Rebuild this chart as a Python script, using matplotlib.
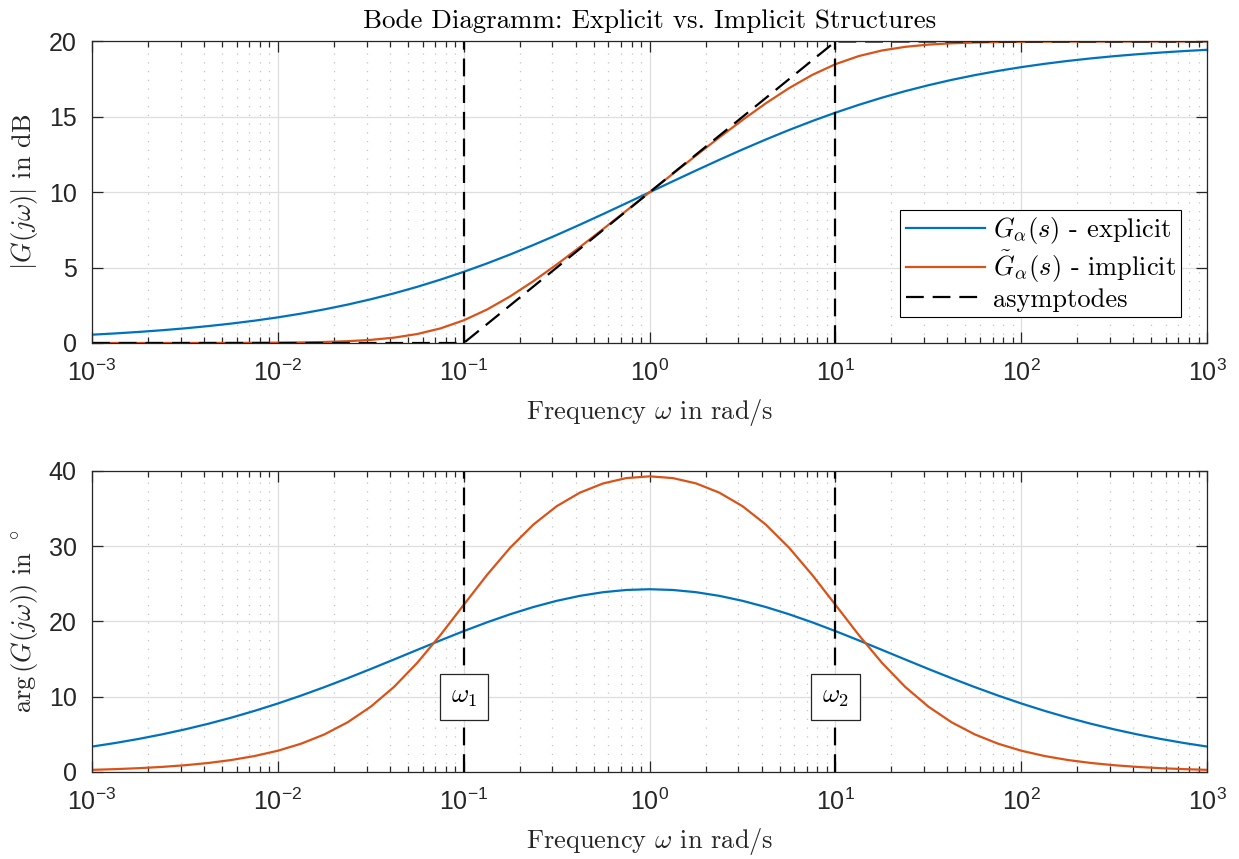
import numpy as np
import matplotlib
matplotlib.use('Agg')
import matplotlib.pyplot as plt

plt.rcParams['font.family'] = ['Liberation Sans', 'DejaVu Sans']
plt.rcParams['mathtext.fontset'] = 'cm'

# frequency grid, eighth decades from 1e-3 to 1e3
freq = np.logspace(-3, 3, 49)
decades = [1e-3, 1e-2, 1e-1, 1e0, 1e1, 1e2, 1e3]

# magnitude in dB
mag_explicit = [0.551, 0.636, 0.733, 0.845, 0.973, 1.121, 1.290, 1.482, 1.701,
                1.950, 2.231, 2.547, 2.901, 3.294, 3.728, 4.204, 4.721, 5.278,
                5.873, 6.503, 7.163, 7.849, 8.555, 9.274, 10.0, 10.726, 11.445,
                12.151, 12.837, 13.497, 14.127, 14.722, 15.279, 15.796, 16.272,
                16.706, 17.099, 17.453, 17.769, 18.050, 18.299, 18.518, 18.710,
                18.879, 19.027, 19.155, 19.267, 19.364, 19.449]
mag_implicit = [0.000, 0.000, 0.001, 0.001, 0.002, 0.004, 0.007, 0.012, 0.022,
                0.038, 0.068, 0.119, 0.207, 0.355, 0.597, 0.969, 1.505, 2.219,
                3.096, 4.104, 5.205, 6.365, 7.561, 8.776, 10.0, 11.224, 12.439,
                13.635, 14.795, 15.896, 16.904, 17.781, 18.495, 19.031, 19.403,
                19.645, 19.793, 19.881, 19.932, 19.962, 19.978, 19.988, 19.993,
                19.996, 19.998, 19.999, 19.999, 20.000, 20.000]

# phase in degrees
phase_explicit = [3.376, 3.853, 4.390, 4.991, 5.662, 6.406, 7.227, 8.126, 9.103,
                  10.156, 11.278, 12.460, 13.691, 14.954, 16.229, 17.493, 18.722,
                  19.887, 20.963, 21.924, 22.745, 23.407, 23.892, 24.188, 24.288,
                  24.188, 23.892, 23.407, 22.745, 21.924, 20.963, 19.887, 18.722,
                  17.493, 16.229, 14.954, 13.691, 12.460, 11.278, 10.156, 9.103,
                  8.126, 7.227, 6.406, 5.662, 4.991, 4.390, 3.853, 3.376]
phase_implicit = [0.284, 0.378, 0.504, 0.672, 0.897, 1.195, 1.593, 2.123, 2.827,
                  3.760, 4.991, 6.602, 8.684, 11.312, 14.514, 18.218, 22.214,
                  26.185, 29.815, 32.888, 35.320, 37.122, 38.349, 39.058, 39.289,
                  39.058, 38.349, 37.122, 35.320, 32.888, 29.815, 26.185, 22.214,
                  18.218, 14.514, 11.312, 8.684, 6.602, 4.991, 3.760, 2.827,
                  2.123, 1.593, 1.195, 0.897, 0.672, 0.504, 0.378, 0.284]

# asymptotes and corner frequencies
asym_freq = [1e-3, 1e-1, 1e1, 1e3]
asym_db = [0, 0, 20, 20]
corner_freq = [0.1, 10]
corner_names = [r'$\omega_1$', r'$\omega_2$']

blue = '#0072BD'
orange = '#D95319'
axcol = '#262626'
serif = 'cmr10'
fs = 19
dash = (0, (8, 4))

fig = plt.figure(figsize=(12.39, 8.59), dpi=100)
ax1 = fig.add_axes([0.0743, 0.6007, 0.900, 0.351])
ax2 = fig.add_axes([0.0743, 0.1013, 0.900, 0.3504])


def style(ax, ylim, yticks):
    ax.set_xscale('log')
    ax.set_xticks(decades)
    ax.set_xlim(1e-3, 1e3)
    ax.set_ylim(*ylim)
    ax.set_yticks(yticks)
    ax.grid(True, which='major', color='#dedede', lw=0.9, ls='-')
    ax.grid(True, which='minor', axis='x', color='#c4c4c4', lw=0.9, ls=(0, (1, 6)))
    ax.set_axisbelow(True)
    for s in ax.spines.values():
        s.set_color(axcol)
        s.set_linewidth(0.9)
    ax.tick_params(which='both', direction='in', top=True, right=True,
                   colors=axcol, width=0.9)
    ax.tick_params(which='major', length=8, labelsize=18)
    ax.tick_params(axis='x', which='major', pad=12)
    ax.tick_params(axis='y', which='major', pad=11)
    ax.tick_params(which='minor', length=4, labelbottom=False, labelleft=False)
    ax.set_xlabel(r'Frequency $\omega$ in rad/s', family=serif, fontsize=fs,
                  color=axcol, labelpad=8)


# magnitude plot
ax1.plot(freq, mag_explicit, color=blue, lw=1.6, label=r'$G_\alpha(s)$ - explicit')
ax1.plot(freq, mag_implicit, color=orange, lw=1.6, label=r'$\tilde{G}_\alpha(s)$ - implicit')
ax1.plot(asym_freq, asym_db, color='black', lw=1.6, ls=dash, label='asymptodes')
for w in corner_freq:
    ax1.plot([w, w], [0, 20], color='black', lw=1.6, ls=dash)
style(ax1, (0, 20), [0, 5, 10, 15, 20])
ax1.set_ylabel(r'$|G(j\omega)|$ in dB', family=serif, fontsize=fs, color=axcol)
ax1.yaxis.set_label_coords(-0.047, 0.5)
ax1.set_title('Bode Diagramm: Explicit vs. Implicit Structures', family=serif,
              fontsize=19.4, color='black', pad=10)
leg = ax1.legend(loc='lower right', bbox_to_anchor=(0.9767, 0.0862),
                 borderaxespad=0, fancybox=False, framealpha=1, edgecolor='black',
                 prop={'family': serif, 'size': fs}, handlelength=3.0,
                 labelspacing=0.1, borderpad=0.2, handletextpad=0.3)
leg.get_frame().set_linewidth(0.8)

# phase plot
ax2.plot(freq, phase_explicit, color=blue, lw=1.6)
ax2.plot(freq, phase_implicit, color=orange, lw=1.6)
for w, name in zip(corner_freq, corner_names):
    ax2.plot([w, w], [0, 40], color='black', lw=1.6, ls=dash)
    ax2.text(w, 10, name, ha='center', va='center', fontsize=fs,
             bbox=dict(boxstyle='square,pad=0.42', fc='white', ec=axcol, lw=0.9))
style(ax2, (0, 40), [0, 10, 20, 30, 40])
ax2.set_ylabel(r'$\arg\left(G(j\omega)\right)$ in $^\circ$', family=serif,
               fontsize=fs, color=axcol)
ax2.yaxis.set_label_coords(-0.047, 0.5)

fig.savefig('out.png', dpi=100)
